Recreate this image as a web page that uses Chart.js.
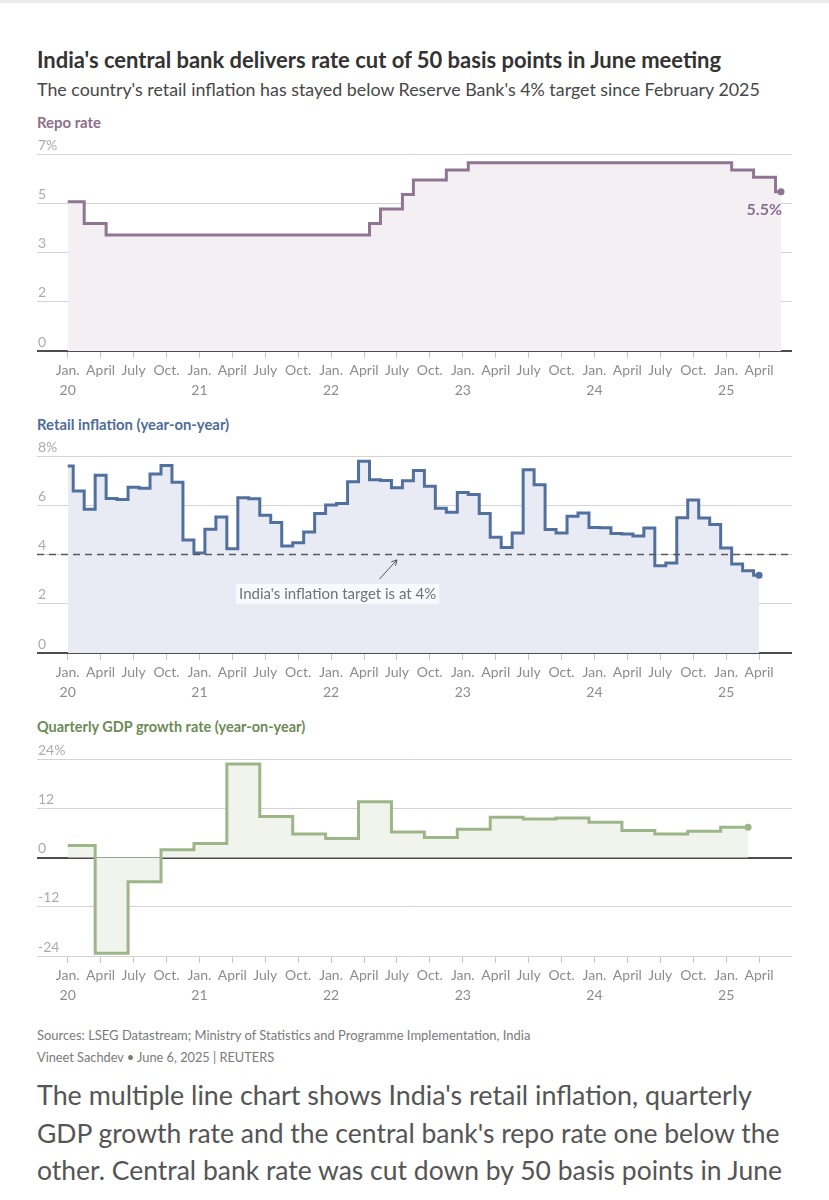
<!DOCTYPE html>
<html>
<head>
<meta charset="utf-8">
<title>India repo rate, inflation and GDP</title>
<script src="https://cdn.jsdelivr.net/npm/chart.js@4.4.1/dist/chart.umd.min.js"></script>
<style>
  html, body { margin: 0; padding: 0; background: #fff; }
  body { width: 829px; height: 1200px; position: relative; overflow: hidden; font-family: Lato, "Noto Sans", sans-serif; }
  .topbar { position: absolute; left: 0; top: 0; width: 829px; height: 3px; background: #ececec; }
  .txt { position: absolute; left: 37px; white-space: nowrap; }
  .title { top: 48px; line-height: 24px; font-size: 19px; font-weight: 700; color: #333; }
  .subtitle { top: 77px; line-height: 24px; font-size: 16px; color: #474747; }
  .section { line-height: 18px; font-size: 14px; font-weight: 700; }
  .sources { top: 1026px; line-height: 18px; font-size: 12px; color: #7a7a7a; }
  .byline { top: 1048px; line-height: 18px; font-size: 12px; color: #7a7a7a; }
  .para { line-height: 38px; font-size: 24px; color: #555; }
  .chart-box { position: absolute; left: 0; width: 829px; height: 266px; }
</style>
</head>
<body>
<div class="topbar"></div>
<div class="txt title" data-w="684">India's central bank delivers rate cut of 50 basis points in June meeting</div>
<div class="txt subtitle" data-w="723">The country's retail inflation has stayed below Reserve Bank's 4% target since February 2025</div>

<div class="txt section" style="top:113px;color:#8b6f8b" data-w="64">Repo rate</div>
<div class="chart-box" style="top:135px"><canvas id="repoChart" width="829" height="266"></canvas></div>

<div class="txt section" style="top:415px;color:#4e6c98" data-w="192">Retail inflation (year-on-year)</div>
<div class="chart-box" style="top:437px"><canvas id="inflationChart" width="829" height="266"></canvas></div>

<div class="txt section" style="top:718px;color:#6c8a55" data-w="268">Quarterly GDP growth rate (year-on-year)</div>
<div class="chart-box" style="top:740px"><canvas id="gdpChart" width="829" height="266"></canvas></div>

<div class="txt sources" data-w="493">Sources: LSEG Datastream; Ministry of Statistics and Programme Implementation, India</div>
<div class="txt byline" data-w="237">Vineet Sachdev • June 6, 2025 | REUTERS</div>

<div class="txt para" style="top:1076px" data-w="715">The multiple line chart shows India's retail inflation, quarterly</div>
<div class="txt para" style="top:1114px" data-w="742">GDP growth rate and the central bank's repo rate one below the</div>
<div class="txt para" style="top:1151px" data-w="745">other. Central bank rate was cut down by 50 basis points in June</div>

<script>
// ---- data (months counted from Jan. 2020 = 0) ----
const quarterNames = ['Jan.', 'April', 'July', 'Oct.'];
const yearLabels = ['20', '21', '22', '23', '24', '25'];

// Repo rate, monthly, Jan. 2020 - June 2025
const repoRate = [
  5.15, 5.15, 4.40, 4.40, 4.00, 4.00, 4.00, 4.00, 4.00, 4.00, 4.00, 4.00,
  4.00, 4.00, 4.00, 4.00, 4.00, 4.00, 4.00, 4.00, 4.00, 4.00, 4.00, 4.00,
  4.00, 4.00, 4.00, 4.00, 4.40, 4.90, 4.90, 5.40, 5.90, 5.90, 5.90, 6.25,
  6.25, 6.50, 6.50, 6.50, 6.50, 6.50, 6.50, 6.50, 6.50, 6.50, 6.50, 6.50,
  6.50, 6.50, 6.50, 6.50, 6.50, 6.50, 6.50, 6.50, 6.50, 6.50, 6.50, 6.50,
  6.50, 6.25, 6.25, 6.00, 6.00, 5.50
];
const repoTicks = [0, 1.7, 3.4, 5.1, 6.8];
const repoTickLabels = ['0', '2', '3', '5', '7%'];

// Retail inflation y/y, monthly, Jan. 2020 - April 2025
const inflation = [
  7.59, 6.58, 5.84, 7.22, 6.27, 6.23, 6.73, 6.69, 7.27, 7.61, 6.93, 4.59,
  4.06, 5.03, 5.52, 4.23, 6.30, 6.26, 5.59, 5.30, 4.35, 4.48, 4.91, 5.66,
  6.01, 6.07, 6.95, 7.79, 7.04, 7.01, 6.71, 7.00, 7.41, 6.77, 5.88, 5.72,
  6.52, 6.44, 5.66, 4.70, 4.28, 4.87, 7.44, 6.83, 5.02, 4.87, 5.55, 5.69,
  5.10, 5.09, 4.85, 4.83, 4.75, 5.08, 3.54, 3.65, 5.49, 6.21, 5.48, 5.22,
  4.26, 3.61, 3.34, 3.16
];
const inflationTarget = 4;
const inflationTicks = [0, 2, 4, 6, 8];
const inflationTickLabels = ['0', '2', '4', '6', '8%'];
const targetNote = "India's inflation target is at 4%";

// Quarterly GDP growth y/y, Jan.-March 2020 ... Jan.-March 2025
const gdpGrowth = [
  2.9, -23.3, -5.9, 1.9,
  3.4, 22.8, 10.0, 5.7,
  4.6, 13.6, 6.2, 4.9,
  6.9, 9.8, 9.4, 9.6,
  8.6, 6.6, 5.7, 6.4,
  7.4
];
const gdpTicks = [-24, -12, 0, 12, 24];
const gdpTickLabels = ['-24', '-12', '0', '12', '24%'];

// ---- axis helpers ----
const MONTH_MIN = -2.8;
const MONTH_MAX = 66;
const tickMonths = [];
const tickLabels = [];
for (let i = 0; i < 22; i++) {
  tickMonths.push(i * 3);
  tickLabels.push(i % 4 === 0 ? [quarterNames[0], yearLabels[i / 4]] : quarterNames[i % 4]);
}

function baseOptions(yTicks, yLabels) {
  return {
    responsive: false,
    animation: false,
    layout: { padding: { left: 37, right: 37, top: 19, bottom: 0 } },
    plugins: { legend: { display: false }, tooltip: { enabled: false } },
    scales: {
      x: {
        type: 'linear',
        min: MONTH_MIN,
        max: MONTH_MAX,
        afterBuildTicks: s => { s.ticks = tickMonths.map(v => ({ value: v })); },
        afterFit: s => { s.height = 50; },
        grid: { drawOnChartArea: false, drawTicks: true, tickLength: 7, color: '#c6c6c6' },
        border: { display: false },
        ticks: {
          autoSkip: false, maxRotation: 0, padding: 3,
          color: '#8c8c8c',
          font: { family: 'Lato', size: 14, lineHeight: 1.4 },
          callback: (v, i) => tickLabels[i]
        }
      },
      y: {
        min: yTicks[0],
        max: yTicks[yTicks.length - 1],
        afterBuildTicks: s => { s.ticks = yTicks.map(v => ({ value: v })); },
        afterFit: s => { s.width = 0; },
        grid: {
          drawTicks: false,
          color: c => c.tick && c.tick.value === 0 ? '#4d4d4d' : '#d4d4d4',
          lineWidth: c => c.tick && c.tick.value === 0 ? 2 : 1
        },
        border: { display: false },
        ticks: {
          mirror: true, padding: 1, labelOffset: -9,
          color: '#ababab',
          font: { family: 'Lato', size: 14 },
          callback: (v, i) => yLabels[i]
        }
      }
    }
  };
}

function lineDataset(points, color, fillColor) {
  const last = points.length - 1;
  return {
    data: points,
    stepped: 'middle',
    borderColor: color,
    borderWidth: 3,
    backgroundColor: fillColor,
    fill: 'origin',
    pointRadius: c => c.dataIndex === last ? 3.5 : 0,
    pointBackgroundColor: color,
    pointBorderWidth: 0
  };
}

// ---- plugins for labels ----
const repoLabel = {
  id: 'repoLabel',
  afterDatasetsDraw(chart) {
    const pts = chart.getDatasetMeta(0).data;
    const p = pts[pts.length - 1];
    const ctx = chart.ctx;
    ctx.save();
    ctx.font = 'bold 16px Lato';
    ctx.fillStyle = '#8a7090';
    ctx.textAlign = 'right';
    ctx.textBaseline = 'middle';
    ctx.fillText(repoRate[repoRate.length - 1].toFixed(1) + '%', p.x + 1, p.y + 18);
    ctx.restore();
  }
};

const inflationNotes = {
  id: 'inflationNotes',
  afterDatasetsDraw(chart) {
    const { ctx, chartArea, scales: { x, y } } = chart;
    const yT = y.getPixelForValue(inflationTarget);
    ctx.save();
    // dashed 4% target line
    ctx.strokeStyle = '#585858';
    ctx.lineWidth = 1.6;
    ctx.setLineDash([7, 5]);
    ctx.beginPath();
    ctx.moveTo(chartArea.left, yT);
    ctx.lineTo(chartArea.right, yT);
    ctx.stroke();
    ctx.setLineDash([]);

    // note text with light box
    ctx.font = '15px Lato';
    const tx = x.getPixelForValue(24.6);
    const ty = y.getPixelForValue(2.4);
    const w = ctx.measureText(targetNote).width;
    ctx.fillStyle = 'rgba(255,255,255,0.7)';
    ctx.fillRect(tx - w / 2 - 3, ty - 10, w + 6, 20);
    ctx.fillStyle = '#727272';
    ctx.textAlign = 'center';
    ctx.textBaseline = 'middle';
    ctx.fillText(targetNote, tx, ty);

    // arrow up to the line
    const x0 = x.getPixelForValue(28.4), y0 = y.getPixelForValue(3.0);
    const x1 = x.getPixelForValue(30.0), y1 = y.getPixelForValue(3.78);
    const a = Math.atan2(y1 - y0, x1 - x0);
    ctx.strokeStyle = '#555';
    ctx.lineWidth = 1;
    ctx.beginPath();
    ctx.moveTo(x0, y0);
    ctx.lineTo(x1, y1);
    ctx.moveTo(x1 - 6 * Math.cos(a - 0.5), y1 - 6 * Math.sin(a - 0.5));
    ctx.lineTo(x1, y1);
    ctx.lineTo(x1 - 6 * Math.cos(a + 0.5), y1 - 6 * Math.sin(a + 0.5));
    ctx.stroke();
    ctx.restore();
  }
};

// ---- charts ----
new Chart(document.getElementById('repoChart'), {
  type: 'line',
  data: { datasets: [lineDataset(repoRate.map((v, i) => ({ x: i, y: v })), '#8f7592', '#f3eff3')] },
  options: baseOptions(repoTicks, repoTickLabels),
  plugins: [repoLabel]
});

new Chart(document.getElementById('inflationChart'), {
  type: 'line',
  data: { datasets: [lineDataset(inflation.map((v, i) => ({ x: i, y: v })), '#52709e', '#e8ebf3')] },
  options: baseOptions(inflationTicks, inflationTickLabels),
  plugins: [inflationNotes]
});

// quarters sit in the middle month; series spans Jan. 2020 to March 2025
const gdpPoints = [{ x: 0, y: gdpGrowth[0] }]
  .concat(gdpGrowth.map((v, i) => ({ x: 1 + i * 3, y: v })))
  .concat([{ x: 62, y: gdpGrowth[gdpGrowth.length - 1] }]);

new Chart(document.getElementById('gdpChart'), {
  type: 'line',
  data: { datasets: [lineDataset(gdpPoints, '#9db689', '#f1f4ed')] },
  options: baseOptions(gdpTicks, gdpTickLabels)
});

// scale headline texts to the widths they take in the graphic
function fitText() {
  document.querySelectorAll('[data-w]').forEach(el => {
    const target = +el.dataset.w;
    const size = parseFloat(getComputedStyle(el).fontSize);
    const w = el.getBoundingClientRect().width;
    if (w > 0) el.style.fontSize = (size * target / w).toFixed(2) + 'px';
  });
}
fitText();
if (document.fonts) document.fonts.ready.then(fitText);
</script>
</body>
</html>
